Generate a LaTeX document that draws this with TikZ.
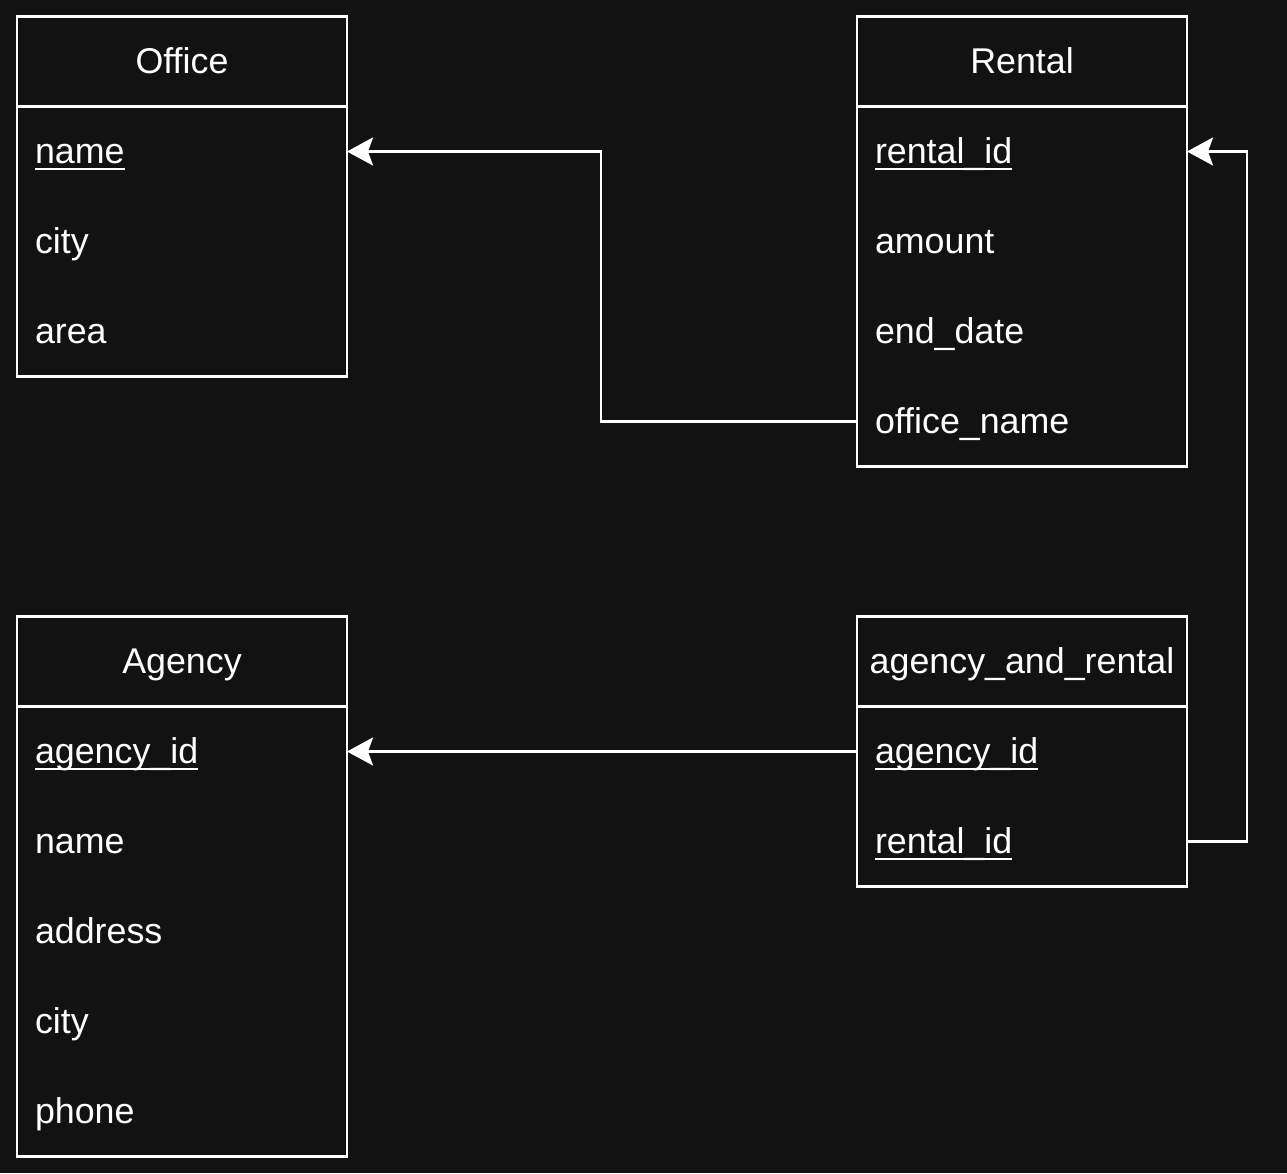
\documentclass[tikz,border=0pt]{standalone}
\usepackage{fontspec}
\setmainfont{Liberation Sans}
\usetikzlibrary{positioning,arrows.meta}
\definecolor{bgdark}{RGB}{18,18,18}
\newcommand\keyname[1]{\setbox0\hbox{#1}\rlap{\rule[-6.5pt]{\wd0}{2.5pt}}\box0}

\begin{document}
\begin{tikzpicture}[x=1pt,y=-1pt,
    every node/.style={font=\fontsize{35.8}{43}\selectfont,text=white,outer sep=0pt,text height=32pt,text depth=8pt},
    tblhead/.style={draw=white,line width=2.6pt,minimum width=330pt,minimum height=90pt,inner sep=0pt},
    tblfield/.style={minimum height=90pt,text width=294pt,inner xsep=18pt,inner ysep=0pt,align=left},
    tblframe/.style={draw=white,line width=2.6pt},
    fk/.style={draw=white,line width=2.6pt,-{Stealth[length=26pt,width=28pt,inset=5pt]}}]
    \fill[bgdark] (0,0) rectangle (1287,1173);
    \node[tblhead] (office) at (182,61.5) {Office};
    \node[tblfield,below=0pt of office] (office-name) {\keyname{name}};
    \node[tblfield,below=0pt of office-name] (office-city) {city};
    \node[tblfield,below=0pt of office-city] (office-area) {area};
    \draw[tblframe] (office.north west) rectangle (office-area.south east);
    \node[tblhead] (rental) at (1022,61.5) {Rental};
    \node[tblfield,below=0pt of rental] (rental-id) {\keyname{rental\_id}};
    \node[tblfield,below=0pt of rental-id] (rental-amount) {amount};
    \node[tblfield,below=0pt of rental-amount] (rental-end) {end\_date};
    \node[tblfield,below=0pt of rental-end] (rental-office) {office\_name};
    \draw[tblframe] (rental.north west) rectangle (rental-office.south east);
    \node[tblhead] (agency) at (182,661.5) {Agency};
    \node[tblfield,below=0pt of agency] (agency-id) {\keyname{agency\_id}};
    \node[tblfield,below=0pt of agency-id] (agency-name) {name};
    \node[tblfield,below=0pt of agency-name] (agency-address) {address};
    \node[tblfield,below=0pt of agency-address] (agency-city) {city};
    \node[tblfield,below=0pt of agency-city] (agency-phone) {phone};
    \draw[tblframe] (agency.north west) rectangle (agency-phone.south east);
    \node[tblhead] (link) at (1022,661.5) {agency\_and\_rental};
    \node[tblfield,below=0pt of link] (link-agency) {\keyname{agency\_id}};
    \node[tblfield,below=0pt of link-agency] (link-rental) {\keyname{rental\_id}};
    \draw[tblframe] (link.north west) rectangle (link-rental.south east);
    \draw[fk] (rental-office.west) -- ++(-256,0) |- (office-name.east);
    \draw[fk] (link-agency.west) -- (agency-id.east);
    \draw[fk] (link-rental.east) -- ++(60,0) |- (rental-id.east);
\end{tikzpicture}
\end{document}
